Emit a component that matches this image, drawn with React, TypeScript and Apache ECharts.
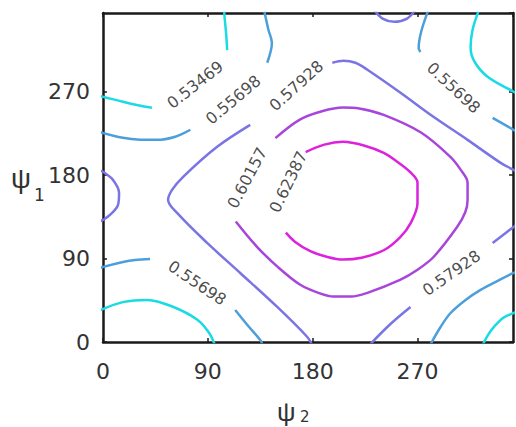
import React, { useEffect, useRef } from 'react';
import * as echarts from 'echarts';

// Axis ranges / ticks (degrees)
const xMax = 352;
const yMax = 355;
const tickStep = 90;

// Contour levels
const levels = ['0.53469', '0.55698', '0.57928', '0.60157', '0.62387'];

// Contour line segments [psi2, psi1] for each level
const level1Segments: number[][][] = [
  [[-3, 265.5], [17, 259.2], [30, 255.5], [42, 252.7]],
  [[106.6, 315], [105.8, 331.5], [104.5, 348.8], [104, 357]],
  [[-3, 34], [17, 43], [38, 45.4], [60, 38], [81, 24], [91, 10], [96, -3]],
  [[322.4, 357], [317.3, 336.9], [315.6, 317.5], [319, 302.4], [330.2, 286.2], [352.5, 270], [356, 268]],
  [[326, -3], [332.8, 11.9], [341.4, 23.8], [346.5, 28.1], [352.5, 31.3], [356, 33]],
];
const level2Segments: number[][][] = [
  [[-3, 226.5], [17, 220.3], [32, 218.3], [46.4, 218.1], [62, 221.5], [75, 229]],
  [[141, 301.3], [145, 322.9], [142, 337], [138.5, 357]],
  [[-3, 80], [17.2, 86.4], [27.5, 88.6], [40.4, 89.6]],
  [[113.5, 34.6], [124.7, 17.3], [135, 2.2], [137, -3]],
  [[281, -3], [289.8, 16.2], [298.4, 31.3], [311.3, 45.4], [324.2, 56.2], [338.8, 65.9], [352.5, 74.5], [356, 76]],
  [[279, 357], [273, 334], [271, 317], [272.6, 313]],
  [[334.5, 241.9], [352.5, 228.9], [356, 226.5]],
];
const level3Segments: number[][][] = [
  [[356, 183], [352.5, 185.7], [341.4, 193.3], [313, 218.1], [283.7, 243], [255.4, 268.9], [227, 293.7], [216.7, 301.3], [206.4, 303.5], [196.9, 301.3]],
  [[126.4, 234.3], [98, 210.6], [68.8, 178.2], [59.3, 164.1], [55.9, 153.3], [63.6, 139.3], [89.4, 106.9], [117.8, 74.5], [149.6, 37.8], [175.4, 5.4], [179.5, -3]],
  [[229, -3], [246.8, 19.4], [264, 37.8]],
  [[334.5, 106.9], [352.5, 124.2], [356, 127.5]],
  [[-3, 185], [0, 183.6], [8.6, 174.9], [13.8, 160.9], [12.9, 147.9], [6, 137.1], [0, 131.7], [-3, 130]],
  [[233, 358], [240, 349], [250, 345.5], [261, 349], [268, 358]],
];
const level4Segments: number[][][] = [
  [[114, 130], [132, 103], [150, 81], [169, 62], [185, 53], [198, 49], [213, 49], [227, 53], [255, 67], [270, 78], [284, 92], [304, 124], [311, 140], [313, 153], [313, 172], [307, 186], [298, 200], [273, 226], [241, 245], [220, 252], [206, 253], [188, 249], [169, 240], [148, 220]],
];
const level5Segments: number[][][] = [
  [[157, 118], [165, 108], [178, 98], [192, 92], [206, 89], [222, 91], [241, 99], [255, 113], [264, 128], [270, 150], [270, 172], [264, 183], [252, 195], [241, 204], [224, 212], [206, 216], [190, 213], [174, 205]],
];
const segmentsByLevel = [level1Segments, level2Segments, level3Segments, level4Segments, level5Segments];

// Inline contour labels: [psi2, psi1, level index, angle]
const labelPsi2 = [79.1, 111.8, 166.0, 123.8, 159.1, 301.0, 80.8, 299.2];
const labelPsi1 = [277.5, 261.3, 276.5, 177.1, 172.8, 274.3, 63.7, 74.5];
const labelLevel = [0, 1, 2, 3, 4, 1, 1, 2];
const labelAngle = [38, 40, 42, 62, 64, -43, -34, 35];

const lineColors = ['#1adbe3', '#4d9fdc', '#7b74e4', '#a846dc', '#dc22dc'];

export default function App() {
  const ref = useRef<HTMLDivElement>(null);
  useEffect(() => {
    if (!ref.current) return;
    const chart = echarts.init(ref.current, null, { renderer: 'svg' });
    const series: any[] = [];
    segmentsByLevel.forEach((segs, li) => {
      segs.forEach((seg, si) => {
        series.push({
          type: 'line',
          name: levels[li] + '_' + si,
          data: seg,
          showSymbol: false,
          smooth: 0.35,
          clip: true,
          silent: true,
          lineStyle: { color: lineColors[li], width: 2.5 },
        });
      });
    });
    series.push({
      type: 'scatter',
      symbolSize: 0,
      silent: true,
      data: labelPsi2.map((x, i) => ({
        value: [x, labelPsi1[i]],
        label: {
          show: true,
          position: 'inside',
          formatter: levels[labelLevel[i]],
          rotate: labelAngle[i],
          fontSize: 16,
          fontFamily: 'DejaVu Sans',
          color: '#1a1a1a',
        },
      })),
    });
    const axisLineStyle = { color: '#1a1a1a', width: 2.5 };
    const fmt = (v: number) => (v % tickStep === 0 ? String(v) : '');
    const labelStyle = { fontSize: 22, fontFamily: 'DejaVu Sans', color: '#333' };
    const tick = { show: true, inside: true, length: 4, lineStyle: { color: '#1a1a1a', width: 1.5 } };
    chart.setOption({
      animation: false,
      backgroundColor: '#fff',
      grid: { left: 103, right: 3, top: 13, bottom: 85, containLabel: false },
      xAxis: [
        {
          type: 'value', min: 0, max: xMax, interval: tickStep, position: 'bottom',
          axisLine: { show: true, onZero: false, lineStyle: axisLineStyle },
          axisTick: tick,
          axisLabel: { ...labelStyle, margin: 18, showMaxLabel: false, formatter: fmt },
          splitLine: { show: false },
        },
        {
          type: 'value', min: 0, max: xMax, interval: tickStep, position: 'top',
          axisLine: { show: true, onZero: false, lineStyle: axisLineStyle },
          axisTick: tick,
          axisLabel: { show: false },
          splitLine: { show: false },
        },
      ],
      yAxis: [
        {
          type: 'value', min: 0, max: yMax, interval: tickStep, position: 'left',
          axisLine: { show: true, onZero: false, lineStyle: axisLineStyle },
          axisTick: tick,
          axisLabel: { ...labelStyle, margin: 13, showMaxLabel: false, formatter: fmt },
          splitLine: { show: false },
        },
        {
          type: 'value', min: 0, max: yMax, interval: tickStep, position: 'right',
          axisLine: { show: true, onZero: false, lineStyle: axisLineStyle },
          axisTick: tick,
          axisLabel: { show: false },
          splitLine: { show: false },
        },
      ],
      graphic: [
        { type: 'text', left: 11, top: 164, style: { text: 'ψ', fontSize: 28, fontFamily: 'Liberation Sans', fill: '#333' } },
        { type: 'text', left: 34, top: 186, style: { text: '1', fontSize: 17, fontFamily: 'DejaVu Sans', fill: '#333' } },
        { type: 'text', left: 277, top: 399, style: { text: 'ψ', fontSize: 26, fontFamily: 'Liberation Sans', fill: '#333' } },
        { type: 'text', left: 300, top: 409, style: { text: '2', fontSize: 15, fontFamily: 'DejaVu Sans', fill: '#333' } },
      ],
      series,
    });
    return () => chart.dispose();
  }, []);
  return <div ref={ref} style={{ position: 'absolute', left: 0, top: 0, width: 516, height: 427 }} />;
}
